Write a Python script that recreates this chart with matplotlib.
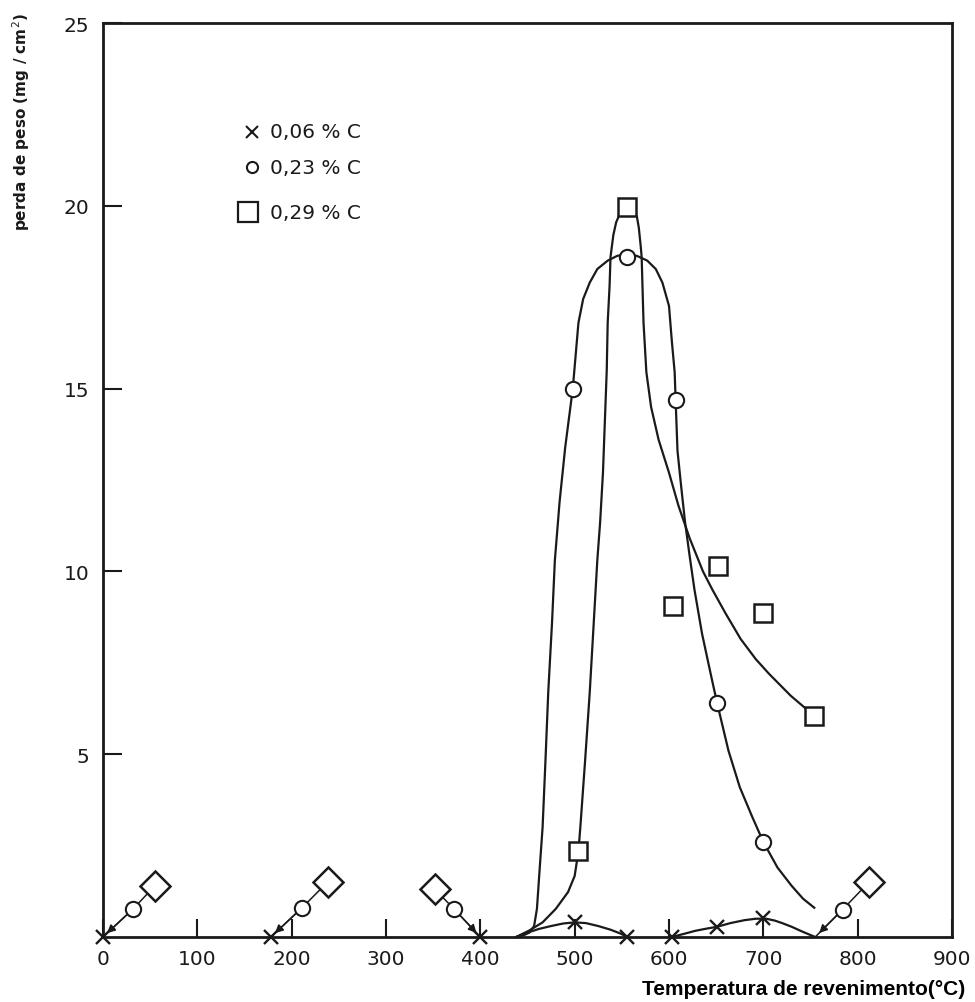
import matplotlib
matplotlib.use("Agg")
import matplotlib.pyplot as plt

plt.rcParams["font.family"] = ["DejaVu Sans"]

# puntos medidos (temperatura de revenimento en C, perda de peso en mg/cm2)
x006 = [0, 178, 400, 500, 556, 603, 651, 700]
y006 = [0, 0, 0, 0.4, 0, 0, 0.28, 0.52]

x023 = [498, 555, 607, 651, 700]
y023 = [15.0, 18.6, 14.7, 6.4, 2.6]

x029 = [504, 555, 604, 652, 700, 754]
y029 = [2.35, 19.97, 9.05, 10.15, 8.85, 6.05]

# curvas dibujadas a mano en el original (leidas punto a punto)
c006a_x = [438, 450, 462, 475, 488, 500, 512, 525, 538, 548, 556]
c006a_y = [0, 0.12, 0.22, 0.3, 0.37, 0.4, 0.38, 0.3, 0.2, 0.1, 0]
c006b_x = [603, 615, 628, 640, 651, 665, 680, 692, 703, 712, 720, 730, 742, 755]
c006b_y = [0, 0.08, 0.17, 0.23, 0.28, 0.38, 0.46, 0.5, 0.5, 0.45, 0.38, 0.28, 0.14, 0]

c023_x = [438, 446, 452, 457, 460, 463, 466, 469, 472, 476, 479, 484, 490,
          498, 501, 504, 509, 516, 524, 535, 545, 555, 566, 577, 586, 593,
          600, 603, 606, 607, 609, 613, 617, 622, 627, 635, 645, 651, 663,
          675, 688, 700, 715, 730, 742, 754]
c023_y = [0, 0.05, 0.12, 0.3, 0.77, 1.9, 3.0, 4.8, 6.7, 8.6, 10.3, 11.9, 13.4,
          15.0, 15.9, 16.8, 17.45, 17.9, 18.27, 18.5, 18.63, 18.68, 18.63, 18.5, 18.27, 17.9,
          17.26, 16.3, 15.45, 14.7, 13.3, 12.3, 11.35, 10.4, 9.5, 8.3, 7.1, 6.4, 5.1,
          4.1, 3.3, 2.6, 1.9, 1.4, 1.05, 0.8]

c029_x = [438, 452, 466, 480, 493, 500, 504, 506, 511, 516, 520, 524, 527,
          530, 532, 534, 535, 537, 538, 541, 544, 549, 555, 561, 566, 568,
          570, 571, 572, 573, 576, 581, 589, 600, 610, 622, 636, 646, 660,
          676, 692, 706, 729, 754]
c029_y = [0, 0.18, 0.4, 0.77, 1.23, 1.67, 2.35, 3.0, 4.8, 6.7, 8.5, 10.3, 11.35,
          12.7, 14.1, 15.5, 16.8, 17.8, 18.6, 19.2, 19.55, 19.85, 19.97, 19.88, 19.7, 19.4,
          18.9, 18.6, 17.7, 16.8, 15.45, 14.5, 13.6, 12.7, 11.8, 10.9, 10.0, 9.5, 8.85,
          8.15, 7.6, 7.2, 6.6, 6.05]

# grupos con rombo + circulo + flecha sobre el eje
grupo_base_x = [0, 178, 400, 755]
grupo_circ_x = [32, 211, 372, 784]
grupo_circ_y = [0.77, 0.8, 0.77, 0.75]
grupo_romb_x = [55, 238, 352, 812]
grupo_romb_y = [1.4, 1.5, 1.3, 1.5]

leyenda = ["0,06 % C", "0,23 % C", "0,29 % C"]

tinta = "#1a1a1a"

fig = plt.figure(figsize=(9.75, 10.03), dpi=100)
ax = fig.add_axes([103 / 975, 1 - 938 / 1003, 849 / 975, 914 / 1003])

lw = 1.6
for cx_, cy_ in [(c006a_x, c006a_y), (c006b_x, c006b_y),
                 (c023_x, c023_y), (c029_x, c029_y)]:
    ax.plot(cx_, cy_, color=tinta, lw=lw, zorder=2, solid_joinstyle="round")

ax.plot(x006, y006, ls="none", marker="x", ms=10, mew=1.7, color=tinta,
        zorder=4, clip_on=False)
ax.plot(x023, y023, ls="none", marker="o", ms=11, mew=1.5, mfc="white",
        mec=tinta, zorder=4, clip_on=False)
ax.plot(x029, y029, ls="none", marker="s", ms=13, mew=1.8, mfc="white",
        mec=tinta, zorder=4, clip_on=False)

for bx, cx, cy, dx, dy in zip(grupo_base_x, grupo_circ_x, grupo_circ_y,
                              grupo_romb_x, grupo_romb_y):
    ax.plot([bx, cx, dx], [0, cy, dy], color=tinta, lw=1.1, zorder=3, clip_on=False)
    ax.plot(cx, cy, marker="o", ms=11, mew=1.5, mfc="white", mec=tinta,
            zorder=4, clip_on=False)
    ax.plot(dx, dy, marker="D", ms=15.5, mew=1.8, mfc="white", mec=tinta,
            zorder=4, clip_on=False)
    ax.annotate("", xy=(bx, 0), xytext=(cx, cy),
                arrowprops=dict(arrowstyle="-|>", color=tinta, lw=1.1,
                                shrinkA=6, shrinkB=4, mutation_scale=12),
                zorder=3, annotation_clip=False)

# leyenda escrita a mano dentro del grafico
ley_y = [0.881, 0.842, 0.793]
ley_m = [dict(marker="x", ms=9, mew=1.5, mfc="none"),
         dict(marker="o", ms=8, mew=1.5, mfc="white"),
         dict(marker="s", ms=14, mew=1.6, mfc="white")]
ley_mx = [0.175, 0.175, 0.171]
for txt, yy, mk, mx in zip(leyenda, ley_y, ley_m, ley_mx):
    ax.plot(mx, yy, transform=ax.transAxes, color=tinta, mec=tinta,
            ls="none", clip_on=False, **mk)
    ax.text(0.197, yy, txt, transform=ax.transAxes, fontsize=14.5,
            va="center", ha="left", color=tinta)

ax.set_xlim(0, 900)
ax.set_ylim(0, 25)
ax.set_xticks(range(0, 1000, 100))
ax.set_yticks([5, 10, 15, 20, 25])
ax.tick_params(axis="x", direction="in", length=13, width=1.5, pad=9,
               labelsize=14.5, colors=tinta)
ax.tick_params(axis="y", direction="in", length=14, width=1.5, pad=10,
               labelsize=14.5, colors=tinta)
for s in ax.spines.values():
    s.set_linewidth(2.0)
    s.set_color(tinta)

fig.text(0.022, 1 - 122 / 1003, "perda de peso (mg / cm$^2$)",
         rotation=90, ha="center", va="center", fontsize=11,
         fontweight="bold", color=tinta)
fig.text(0.8246, 0.008, "Temperatura de revenimento(°C)", ha="center",
         va="baseline", fontsize=15, fontweight="bold",
         family="Liberation Sans", color="black")

fig.savefig("out.png", dpi=100, facecolor="white")
